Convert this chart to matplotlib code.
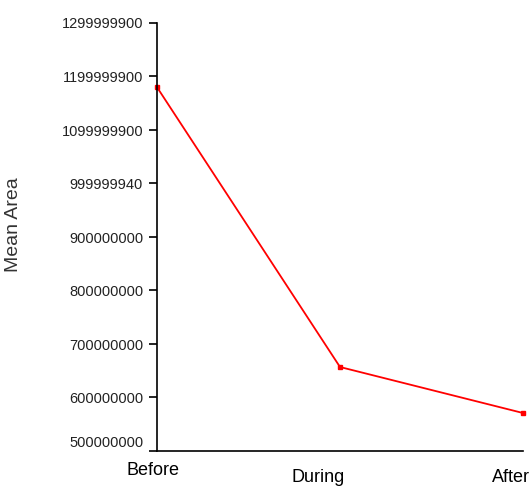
import matplotlib
matplotlib.use("Agg")
import matplotlib.pyplot as plt
import matplotlib.transforms as mtransforms

phases = ["Before", "During", "After"]
mean_area = [1180000000, 657000000, 571000000]
y_ticks = [500000000, 600000000, 700000000, 800000000, 900000000,
           1000000000, 1100000000, 1200000000, 1300000000]
y_labels = ["500000000", "600000000", "700000000", "800000000", "900000000",
            "999999940", "1099999900", "1199999900", "1299999900"]

plt.rcParams['font.family'] = ['Liberation Sans Narrow', 'Liberation Sans', 'DejaVu Sans']

fig = plt.figure(figsize=(5.31, 4.90), dpi=100)
ax = fig.add_axes([157 / 531, 1 - 451 / 490, (523 - 157) / 531, (451 - 23) / 490])

x = list(range(len(phases)))
ax.plot(x, mean_area, color="red", lw=1.3, marker="s", ms=2.5, clip_on=False)

ax.set_xlim(0, 2)
ax.set_ylim(500000000, 1300000000)
ax.set_yticks(y_ticks)
ax.set_yticklabels(y_labels, fontsize=10.5, color="#222222")
ax.set_xticks(x)
ax.set_xticklabels(phases, fontsize=13)
ax.tick_params(axis="x", length=0, pad=8)
ax.tick_params(axis="y", length=6, width=1.2, pad=4)

for s in ["top", "right"]:
    ax.spines[s].set_visible(False)
ax.spines["left"].set_linewidth(1.2)
ax.spines["bottom"].set_linewidth(1.2)

# small label nudges like the original
offsets_x = [(-4, 0), (-22, -7), (-12, -7)]
for lab, (dx, dy) in zip(ax.get_xticklabels(), offsets_x):
    lab.set_transform(lab.get_transform() + mtransforms.ScaledTranslation(dx / 100, dy / 100, fig.dpi_scale_trans))
ylabs = ax.get_yticklabels()
ylabs[0].set_transform(ylabs[0].get_transform() + mtransforms.ScaledTranslation(0, 10 / 100, fig.dpi_scale_trans))

ax.set_ylabel("Mean Area", fontsize=14, color="#333333")
ax.yaxis.set_label_coords(-0.37, 0.53)

fig.savefig("out.png", dpi=100)
